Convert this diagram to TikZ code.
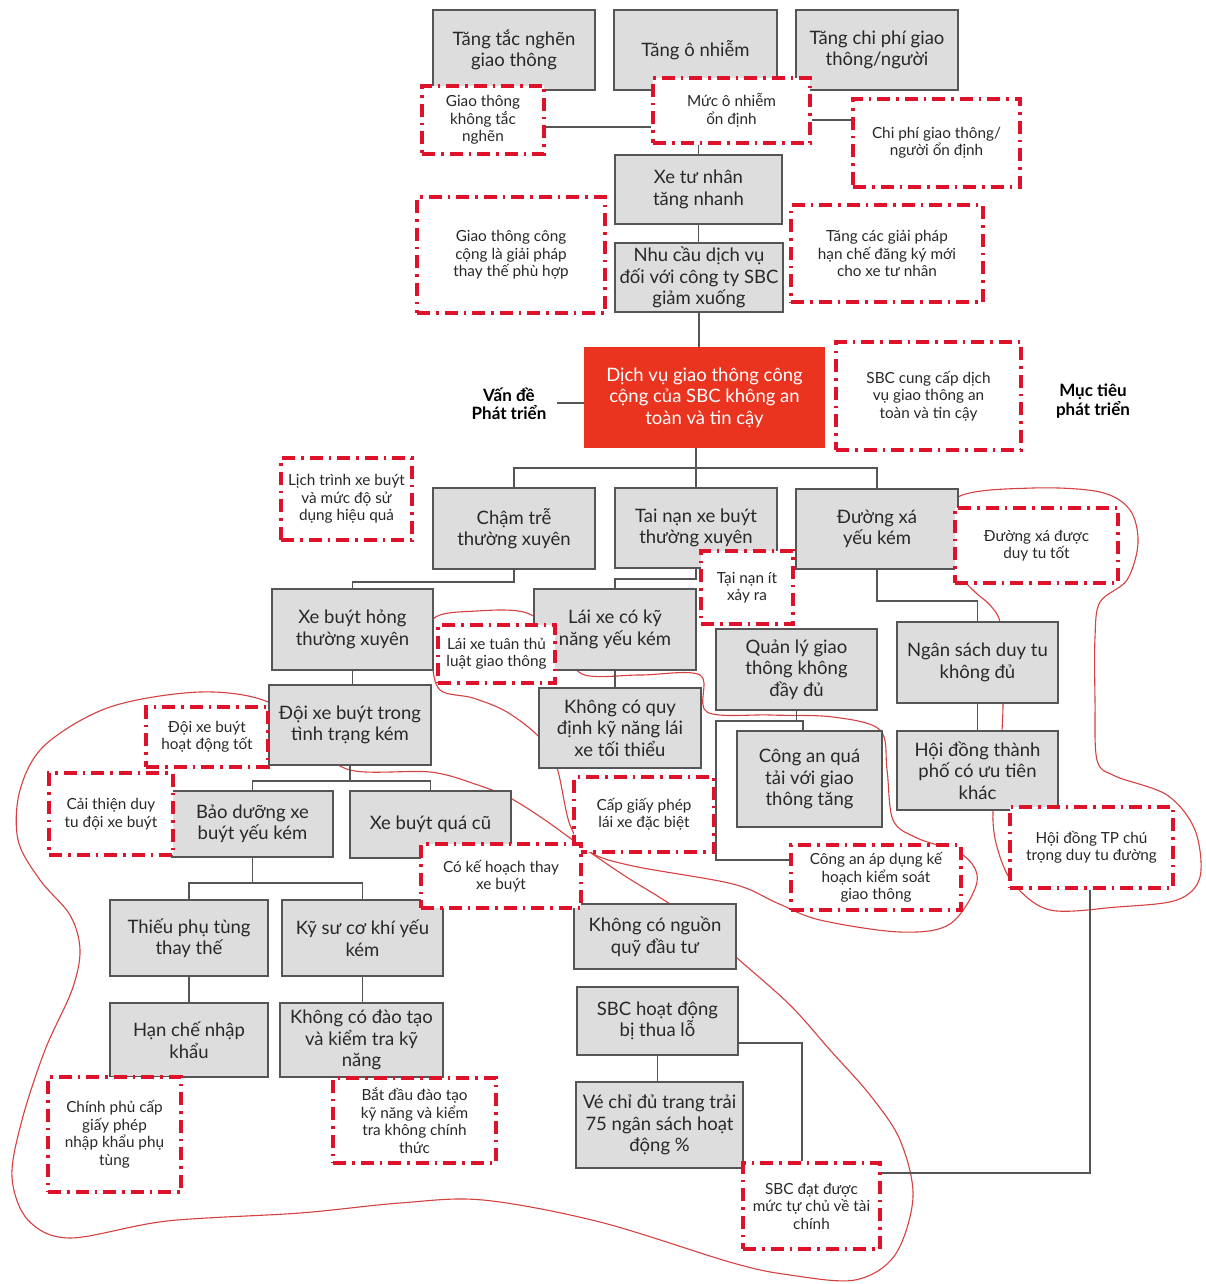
\documentclass[tikz,border=0pt]{standalone}
\usepackage{fontspec}
\setmainfont{Lato}
\definecolor{gfill}{RGB}{221,221,221}
\definecolor{gborder}{RGB}{85,85,85}
\definecolor{txt}{RGB}{40,40,40}
\definecolor{rdash}{RGB}{222,18,42}
\definecolor{corered}{RGB}{234,52,32}
\definecolor{blobred}{RGB}{214,64,64}
\newcommand\BX[7]{%
  \pgfmathsetmacro\bxcx{(#3+#5)/2}%
  \pgfmathsetmacro\bxcy{(#4+#6)/2}%
  \pgfmathsetmacro\bxw{#5-#3}%
  \pgfmathsetmacro\bxh{#6-#4}%
  \node[#2, minimum width=\bxw pt, minimum height=\bxh pt] (#1) at (\bxcx,\bxcy) {#7};}
\begin{document}
\begin{tikzpicture}[x=1pt,y=-1pt,
 gbox/.style={draw=gborder, line width=1.6pt, fill=gfill, align=center, inner sep=1pt, font=\fontsize{18.5}{21.5}\selectfont, text=txt},
 rbox/.style={draw=rdash, line width=3.4pt, fill=white, dash pattern=on 13pt off 6pt on 2.5pt off 6pt, align=center, inner sep=1pt, font=\fontsize{15.3}{17.5}\selectfont, text=txt},
 corebox/.style={fill=corered, draw=none, align=center, text=white, font=\fontsize{18.5}{21.5}\selectfont},
 conn/.style={draw=gborder, line width=1.4pt},
 blob/.style={draw=blobred, line width=1.1pt},
 lab/.style={align=center, font=\fontsize{17}{18.5}\selectfont\bfseries, text=black}]
\useasboundingbox (0,0) rectangle (1205,1284);
\fill[white] (0,0) rectangle (1205,1284);

% freeform red outlines
\draw[blob] plot[smooth cycle, tension=0.55] coordinates {(268,702) (310,740) (350,770) (430,772) (475,784) (510,798) (545,820) (581,846) (625,876) (670,904) (705,930) (737,958) (790,1005) (830,1050) (870,1095) (900,1140) (913,1197) (895,1255) (855,1280) (790,1275) (733,1263) (600,1222) (483,1200) (400,1203) (300,1213) (167,1221) (70,1238) (28,1220) (12,1177) (22,1120) (45,1050) (72,990) (80,950) (70,915) (40,880) (18,840) (20,790) (45,745) (110,707) (200,692)};
\draw[blob] plot[smooth cycle, tension=0.55] coordinates {(433,619) (477,611) (527,613) (560,640) (582,674) (640,675) (700,675) (707,712) (770,715) (833,717) (880,730) (887,770) (893,820) (917,838) (963,855) (977,882) (950,924) (900,932) (820,920) (777,903) (733,884) (633,866) (590,852) (570,825) (557,768) (540,738) (507,712) (473,698) (440,690) (432,660)};
\draw[blob] plot[smooth cycle, tension=0.55] coordinates {(958,497) (1033,488) (1100,492) (1130,510) (1138,543) (1127,580) (1100,602) (1095,637) (1095,700) (1097,760) (1115,776) (1167,795) (1195,830) (1200,877) (1177,900) (1117,907) (1050,910) (1013,883) (997,847) (993,812) (1000,770) (1002,731) (1003,703) (1002,660) (1000,622) (990,605) (975,592) (957,572) (940,540)};

% gray boxes
\BX{g1}{gbox}{433}{10}{595}{90}{Tăng tắc nghẽn\\giao thông}
\BX{g2}{gbox}{614}{10}{777}{90}{Tăng ô nhiễm}
\BX{g3}{gbox}{796}{10}{958}{90}{Tăng chi phí giao\\thông/người}
\BX{g4}{gbox}{615}{155}{782}{224}{Xe tư nhân\\tăng nhanh}
\BX{g5}{gbox}{615}{243}{783}{312}{Nhu cầu dịch vụ\\đối với công ty SBC\\giảm xuống}
\BX{g6}{gbox}{433}{488}{595}{569}{Chậm trễ\\thường xuyên}
\BX{g7}{gbox}{615}{488}{777}{568}{Tai nạn xe buýt\\thường xuyên}
\BX{g8}{gbox}{796}{489}{958}{569}{Đường xá\\yếu kém}
\BX{g9}{gbox}{272}{589}{433}{670}{Xe buýt hỏng\\thường xuyên}
\BX{g10}{gbox}{534}{589}{696}{670}{Lái xe có kỹ\\năng yếu kém}
\BX{g11}{gbox}{897}{622}{1058}{703}{Ngân sách duy tu\\không đủ}
\BX{g12}{gbox}{716}{629}{877}{710}{Quản lý giao\\thông không\\đầy đủ}
\BX{g13}{gbox}{269}{685}{431}{765}{Đội xe buýt trong\\tình trạng kém}
\BX{g14}{gbox}{539}{688}{701}{768}{Không có quy\\định kỹ năng lái\\xe tối thiểu}
\BX{g15}{gbox}{737}{731}{882}{827}{Công an quá\\tải với giao\\thông tăng}
\BX{g16}{gbox}{897}{731}{1058}{810}{Hội đồng thành\\phố có ưu tiên\\khác}
\BX{g17}{gbox}{172}{791}{333}{857}{Bảo dưỡng xe\\buýt yếu kém}
\BX{g18}{gbox}{350}{791}{511}{858}{Xe buýt quá cũ}
\BX{g19}{gbox}{110}{900}{268}{976}{Thiếu phụ tùng\\thay thế}
\BX{g20}{gbox}{282}{900}{443}{976}{Kỹ sư cơ khí yếu\\kém}
\BX{g21}{gbox}{574}{904}{736}{969}{Không có nguồn\\quỹ đầu tư}
\BX{g22}{gbox}{110}{1003}{268}{1077}{Hạn chế nhập\\khẩu}
\BX{g23}{gbox}{280}{1003}{443}{1077}{Không có đào tạo\\và kiểm tra kỹ\\năng}
\BX{g24}{gbox}{577}{987}{738}{1055}{SBC hoạt động\\bị thua lỗ}
\BX{g25}{gbox}{576}{1082}{743}{1168}{Vé chỉ đủ trang trải\\75 ngân sách hoạt\\động \%}

% core problem
\BX{core}{corebox}{584}{347}{825}{448}{Dịch vụ giao thông công\\cộng của SBC không an\\toàn và tin cậy}

% red dashed boxes
\BX{r1}{rbox}{422}{86}{544}{154}{Giao thông\\không tắc\\nghẽn}
\BX{r2}{rbox}{653}{78}{810}{143}{Mức ô nhiễm\\ổn định}
\BX{r3}{rbox}{853}{99}{1020}{187}{Chi phí giao thông/\\người ổn định}
\BX{r4}{rbox}{417}{197}{605}{313}{Giao thông công\\cộng là giải pháp\\thay thế phù hợp}
\BX{r5}{rbox}{791}{205}{983}{302}{Tăng các giải pháp\\hạn chế đăng ký mới\\cho xe tư nhân}
\BX{r6}{rbox}{836}{342}{1021}{450}{SBC cung cấp dịch\\vụ giao thông an\\toàn và tin cậy}
\BX{r7}{rbox}{281}{458}{412}{540}{Lịch trình xe buýt\\và mức độ sử\\dụng hiệu quả}
\BX{r8}{rbox}{701}{551}{793}{624}{Tại nạn ít\\xảy ra}
\BX{r9}{rbox}{955}{508}{1118}{583}{Đường xá được\\duy tu tốt}
\BX{r10}{rbox}{438}{625}{555}{683}{Lái xe tuân thủ\\luật giao thông}
\BX{r11}{rbox}{146}{707}{268}{767}{Đội xe buýt\\hoạt động tốt}
\BX{r12}{rbox}{49}{773}{173}{855}{Cải thiện duy\\tu đội xe buýt}
\BX{r13}{rbox}{791}{845}{961}{910}{Công an áp dụng kế\\hoạch kiểm soát\\giao thông}
\BX{r14}{rbox}{1010}{807}{1173}{888}{Hội đồng TP chú\\trọng duy tu đường}
\BX{r15}{rbox}{574}{777}{714}{852}{Cấp giấy phép\\lái xe đặc biệt}
\BX{r16}{rbox}{421}{844}{581}{908}{Có kế hoạch thay\\xe buýt}
\BX{r17}{rbox}{48}{1077}{181}{1192}{Chính phủ cấp\\giấy phép\\nhập khẩu phụ\\tùng}
\BX{r18}{rbox}{333}{1078}{496}{1163}{Bắt đầu đào tạo\\kỹ năng và kiểm\\tra không chính\\thức}
\BX{r19}{rbox}{743}{1163}{880}{1249}{SBC đạt được\\mức tự chủ về tài\\chính}

% side labels
\node[lab] (vd) at (509,404) {Vấn đề\\Phát triển};
\node[lab] (mt) at (1093,401) {Mục tiêu\\phát triển};

% connectors
\coordinate (yA) at (0,127);
\coordinate (yB) at (0,120);
\draw[conn] (r1.east |- yA) -- (r2.west |- yA);
\draw[conn] (r2.east |- yB) -- (r3.west |- yB);
\draw[conn] (g4.north) -- (g4.north |- r2.south);
\draw[conn] (g4.south) -- (g4.south |- g5.north);
\draw[conn] (g5.south) -- (g5.south |- core.north);
\coordinate (vdL) at (557,403);
\draw[conn] (vdL) -- (vdL -| core.west);
\coordinate (j2) at (0,468);
\draw[conn] (core.south -| g7.north) -- (g7.north);
\draw[conn] (g6.north) -- (g6.north |- j2) -- (g8.north |- j2) -- (g8.north);
\coordinate (j3) at (0,582);
\draw[conn] (g6.south) -- (g6.south |- j3) -- (g9.north |- j3) -- (g9.north);
\coordinate (j4) at (0,579);
\draw[conn] (g7.south) -- (g7.south |- j4) -- (g10.north |- j4) -- (g10.north);
\coordinate (j5) at (0,601);
\draw[conn] (g8.south) -- (g8.south |- j5) -- (g11.north |- j5) -- (g11.north);
\draw[conn] (g9.south) -- (g9.south |- g13.north);
\draw[conn] (g10.south) -- (g10.south |- g14.north);
\draw[conn] (g11.south) -- (g16.north);
\coordinate (j6a) at (716,721);
\coordinate (j6b) at (803,721);
\coordinate (yR13) at (0,860);
\draw[conn] (g12.south) -- (g12.south |- j6a);
\draw[conn] (j6b |- g15.north) -- (j6b) -- (j6a) -- (j6a |- yR13) -- (r13.west |- yR13);
\coordinate (j7) at (0,781);
\draw[conn] (g13.south) -- (g13.south |- j7);
\draw[conn] (g17.north) -- (g17.north |- j7) -- (g18.north |- j7) -- (g18.north);
\coordinate (j8) at (0,883);
\draw[conn] (g17.south) -- (g17.south |- j8);
\draw[conn] (g19.north) -- (g19.north |- j8) -- (g20.north |- j8) -- (g20.north);
\draw[conn] (g19.south) -- (g22.north);
\draw[conn] (g20.south) -- (g20.south |- g23.north);
\draw[conn] (g24.south) -- (g24.south |- g25.north);
\coordinate (j9) at (802,1043);
\draw[conn] (g24.east |- j9) -- (j9) -- (j9 |- r19.north);
\coordinate (j10) at (1090,1173);
\draw[conn] (j10 |- r14.south) -- (j10) -- (j10 -| r19.east);
\end{tikzpicture}
\end{document}
